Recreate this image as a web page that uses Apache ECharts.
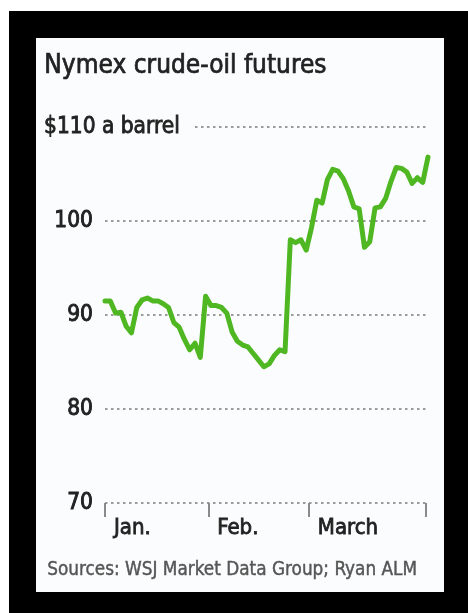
<!DOCTYPE html>
<html>
<head>
<meta charset="utf-8">
<title>Nymex crude-oil futures</title>
<script src="https://cdn.jsdelivr.net/npm/echarts@6/dist/echarts.min.js"></script>
<style>
  html, body { margin: 0; padding: 0; background: #ffffff; }
  #chart { width: 468px; height: 613px; }
</style>
</head>
<body>
<div id="chart"></div>
<script>
// Front-month Nymex crude settlements, one value per trading session, $ a barrel
const months = ['Jan.', 'Feb.', 'March'];
const sessionsPerMonth = [20, 19, 23];
const janPrices = [91.5, 91.5, 90.2, 90.3, 88.8, 88.1, 90.8, 91.6, 91.8, 91.5,
                   91.5, 91.2, 90.8, 89.2, 88.7, 87.4, 86.3, 87.0, 85.5, 92.0];
const febPrices = [91.0, 91.0, 90.8, 90.2, 88.2, 87.2, 86.8, 86.6, 85.9, 85.2,
                   84.5, 84.8, 85.7, 86.3, 86.1, 98.0, 97.7, 98.0, 96.9];
const marPrices = [99.3, 102.2, 101.9, 104.4, 105.5, 105.3, 104.5, 103.2, 101.5, 101.3,
                   97.2, 97.8, 101.4, 101.5, 102.4, 104.2, 105.7, 105.6, 105.2, 104.0,
                   104.6, 104.1, 106.8];
const priceTicks = [70, 80, 90, 100, 110];
const topTickLabel = '$110 a barrel';
const titleText = 'Nymex crude-oil futures';
const sourceText = 'Sources: WSJ Market Data Group; Ryan ALM';

const prices = janPrices.concat(febPrices, marPrices);
const points = prices.map((p, i) => [i, p]);
const lastIndex = prices.length - 1;

// Month dividers sit half a session before each month's first trading day;
// the closing divider sits half a session before the final print.
const monthStarts = [0];
let running = 0;
sessionsPerMonth.slice(0, -1).forEach(n => { running += n; monthStarts.push(running - 0.5); });
const monthTicks = monthStarts.concat([lastIndex - 0.5]);

const FONT = "'DejaVu Sans Condensed', 'DejaVu Sans', sans-serif";
const PANEL = '#fbfcfd';
const INK = '#222222';
const GRID_DOT = { color: '#9a9a9a', width: 2, type: [2.5, 3.5] };

const chart = echarts.init(document.getElementById('chart'), null, { renderer: 'canvas' });

chart.setOption({
  animation: false,
  backgroundColor: '#ffffff',
  graphic: [
    { type: 'rect', z: -20, shape: { x: 9, y: 11, width: 459, height: 602 }, style: { fill: '#000000' } },
    { type: 'rect', z: -19, shape: { x: 36, y: 38, width: 408, height: 554 }, style: { fill: PANEL } },
    { type: 'text', z: 10, left: 44, top: 53,
      style: { text: titleText, font: '26px ' + FONT, fill: INK, stroke: INK, lineWidth: 0.7 } },
    { type: 'text', z: 10, left: 47, top: 560,
      style: { text: sourceText, font: '18.8px ' + FONT, fill: '#555555', stroke: '#555555', lineWidth: 0.4 } }
  ],
  grid: { left: 105, right: 40, top: 127, bottom: 110, containLabel: false },
  xAxis: {
    type: 'value',
    min: 0,
    max: lastIndex,
    axisLine: { show: false },
    splitLine: { show: false },
    axisTick: {
      show: true,
      customValues: monthTicks,
      length: 14,
      inside: false,
      lineStyle: { color: '#8a8a8a', width: 2 }
    },
    axisLabel: {
      show: true,
      customValues: monthStarts,
      formatter: v => {
        const k = monthStarts.indexOf(v);
        return k >= 0 ? months[k] : '';
      },
      align: 'left',
      padding: [0, 0, 0, 9],
      margin: 14,
      color: INK,
      fontFamily: FONT,
      fontSize: 22,
      textBorderColor: INK,
      textBorderWidth: 0.8
    }
  },
  yAxis: [
    {
      type: 'value',
      min: priceTicks[0],
      max: priceTicks[priceTicks.length - 1],
      interval: priceTicks[1] - priceTicks[0],
      axisLine: { show: false },
      axisTick: { show: false },
      splitLine: { show: true, lineStyle: GRID_DOT },
      axisLabel: {
        margin: 12,
        color: INK,
        fontFamily: FONT,
        fontSize: 22.5,
        textBorderColor: INK,
        textBorderWidth: 0.9,
        formatter: v => (v === priceTicks[priceTicks.length - 1] ? '' : String(v))
      }
    },
    {
      type: 'value',
      position: 'left',
      z: 5,
      min: priceTicks[0],
      max: priceTicks[priceTicks.length - 1],
      interval: priceTicks[1] - priceTicks[0],
      axisLine: { show: false },
      axisTick: { show: false },
      splitLine: { show: false },
      axisLabel: {
        margin: 61,
        align: 'left',
        formatter: v => (v === priceTicks[priceTicks.length - 1] ? '{t|' + topTickLabel + '}' : ''),
        rich: {
          t: {
            color: INK,
            fontFamily: FONT,
            fontSize: 22.5,
            textBorderColor: INK,
            textBorderWidth: 0.8,
            backgroundColor: PANEL,
            padding: [4, 13, 4, 0]
          }
        }
      }
    }
  ],
  series: [
    {
      type: 'line',
      data: points,
      showSymbol: false,
      symbol: 'none',
      lineStyle: { color: '#4fb722', width: 5, join: 'round', cap: 'round' },
      z: 3
    }
  ]
});
</script>
</body>
</html>
